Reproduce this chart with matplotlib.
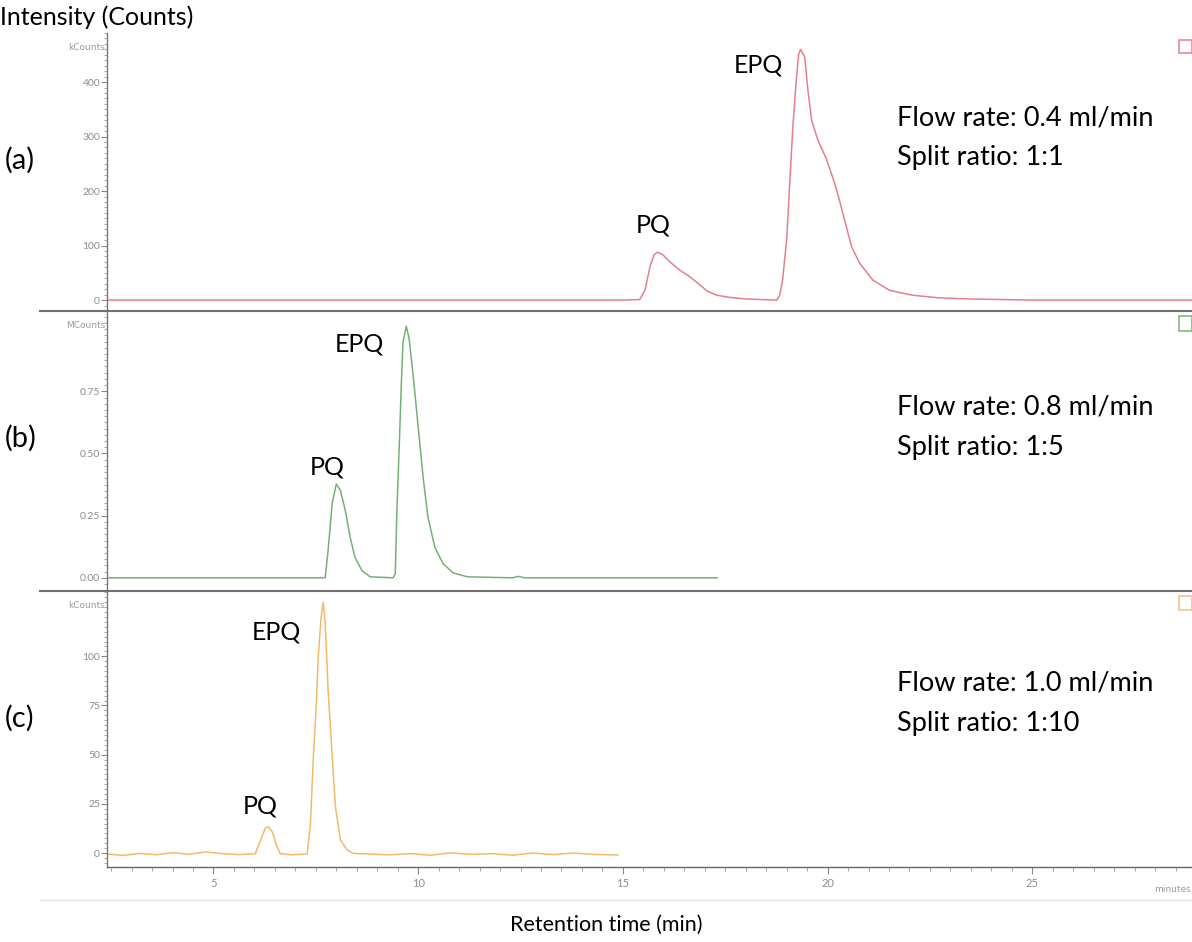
import matplotlib
matplotlib.use('Agg')
import matplotlib.pyplot as plt
from matplotlib.ticker import MultipleLocator, FormatStrFormatter
from matplotlib.lines import Line2D
from matplotlib.patches import Rectangle

plt.rcParams['font.family'] = ['Lato', 'DejaVu Sans']

# ---------------- data ----------------
# (a) Flow rate 0.4 ml/min, split 1:1  (kCounts)
time_a = [2.4, 15.0, 15.41, 15.54, 15.66, 15.76, 15.85, 15.98, 16.15, 16.39, 16.63,
          16.88, 17.05, 17.29, 17.61, 18.02, 18.76, 18.83, 18.9, 19.0, 19.07, 19.15,
          19.24, 19.29, 19.34, 19.44, 19.51, 19.61, 19.76, 19.98, 20.17, 20.29, 20.46,
          20.59, 20.78, 21.1, 21.51, 22.07, 22.73, 23.54, 25.0, 28.9]
int_a = [0, 0, 1, 18, 61, 83, 88, 83, 70, 55, 43,
         28, 17, 9, 5, 2, 0, 9, 37, 110, 207, 317,
         408, 450, 460, 446, 391, 330, 294, 257, 215, 183, 134,
         97, 68, 37, 18, 9, 4, 2, 0, 0]

# (b) Flow rate 0.8 ml/min, split 1:5  (MCounts)
time_b = [2.4, 7.6, 7.73, 7.8, 7.9, 8.0, 8.1, 8.22, 8.34, 8.46, 8.63, 8.83, 9.39,
          9.44, 9.48, 9.54, 9.59, 9.63, 9.71, 9.78, 9.88, 10.0, 10.12, 10.24, 10.41,
          10.61, 10.85, 11.2, 12.32, 12.44, 12.6, 17.3]
int_b = [0, 0, 0.0, 0.11, 0.30, 0.377, 0.352, 0.271, 0.162, 0.081, 0.028, 0.004, 0.0,
         0.016, 0.27, 0.54, 0.785, 0.947, 1.012, 0.96, 0.81, 0.607, 0.405, 0.243, 0.121,
         0.057, 0.02, 0.004, 0.0, 0.006, 0.0, 0.0]

# (c) Flow rate 1.0 ml/min, split 1:10  (kCounts)
time_c = [2.4, 2.8, 3.2, 3.6, 4.0, 4.4, 4.8, 5.2, 5.6, 6.02, 6.15, 6.27, 6.34, 6.44,
          6.54, 6.63, 6.9, 7.29, 7.37, 7.44, 7.51, 7.56, 7.63, 7.68, 7.73, 7.8, 7.9,
          7.98, 8.1, 8.27, 8.41, 8.8, 9.3, 9.8, 10.3, 10.8, 11.3, 11.8, 12.3, 12.8,
          13.3, 13.8, 14.3, 14.88]
int_c = [-0.5, -1.2, -0.2, -0.9, 0.2, -0.7, 0.6, -0.3, -0.8, -0.4, 6.6, 12.8, 13.3, 10.7,
         4, -0.3, -0.9, -0.4, 15, 49, 74.5, 100, 120, 127.5, 117, 83, 49,
         23.5, 6.6, 1.5, -0.2, -0.5, -0.9, -0.3, -1.1, 0.1, -0.7, -0.3, -1.1, 0.0,
         -0.8, 0.0, -0.7, -1]

panel_labels = ['(a)', '(b)', '(c)']
flow_labels = ['Flow rate: 0.4 ml/min', 'Flow rate: 0.8 ml/min', 'Flow rate: 1.0 ml/min']
split_labels = ['Split ratio: 1:1', 'Split ratio: 1:5', 'Split ratio: 1:10']
unit_labels = ['kCounts', 'MCounts', 'kCounts']
y_major = [[0, 100, 200, 300, 400], [0.0, 0.25, 0.5, 0.75], [0, 25, 50, 75, 100]]
x_ticks = [5, 10, 15, 20, 25]

# ---------------- layout ----------------
W, H = 1192, 942
fig = plt.figure(figsize=(W / 100, H / 100), dpi=100)
fig.patch.set_facecolor('white')

def fx(px):
    return px / W

def fy(py):
    return 1 - py / H

left = fx(107)
panels = [(33, 311), (311, 591), (591, 867)]
ylims = [(-20, 490), (-0.053, 1.073), (-7.1, 133.2)]
colors = ['#e57f8e', '#74b274', '#f2b96a']
minors = [10, 0.025, 2.5]
fmts = ['%d', '%.2f', '%d']
series = [(time_a, int_a), (time_b, int_b), (time_c, int_c)]

axes = []
for i, (top, bot) in enumerate(panels):
    ax = fig.add_axes([left, fy(bot), 1 - left, fy(top) - fy(bot)])
    t, v = series[i]
    ax.plot(t, v, color=colors[i], lw=1.1)
    ax.set_xlim(2.4, 28.9)
    ax.set_ylim(*ylims[i])
    ax.set_yticks(y_major[i])
    ax.yaxis.set_major_formatter(FormatStrFormatter(fmts[i]))
    ax.yaxis.set_minor_locator(MultipleLocator(minors[i]))
    for s in ['top', 'right']:
        ax.spines[s].set_visible(False)
    ax.spines['left'].set_color('#777777')
    ax.spines['left'].set_linewidth(1.0)
    ax.tick_params(axis='y', which='major', direction='out', length=4, width=0.8,
                   color='#888888', labelcolor='#8c8c8c', labelsize=7.5, pad=1)
    ax.tick_params(axis='y', which='minor', direction='out', length=2, width=0.6,
                   color='#999999')
    if i < 2:
        ax.spines['bottom'].set_visible(False)
        ax.set_xticks([])
    else:
        ax.spines['bottom'].set_color('#666666')
        ax.spines['bottom'].set_linewidth(1.0)
        ax.set_xticks(x_ticks)
        ax.xaxis.set_minor_locator(MultipleLocator(0.5))
        ax.tick_params(axis='x', which='major', direction='out', length=5, width=0.8,
                       color='#888888', labelcolor='#8c8c8c', labelsize=8, pad=3)
        ax.tick_params(axis='x', which='minor', direction='out', length=3, width=0.6,
                       color='#999999')
    ax.patch.set_alpha(0)
    axes.append(ax)

# separators between panels
for py in [311, 591]:
    fig.add_artist(Line2D([fx(40), 1.0], [fy(py), fy(py)], color='#707070', lw=1.5))
fig.add_artist(Line2D([fx(40), 1.0], [fy(900), fy(900)], color='#e2e2e2', lw=1.0))

# unit labels at top of y axes
for py, lab in zip([47, 325, 605], unit_labels):
    fig.text(fx(105), fy(py), lab, ha='right', va='center', fontsize=6.5,
             color='#9a9a9a', family='DejaVu Sans')

# small legend icons at right
for (py0, py1), col in zip([(40, 53), (316, 331), (596, 610)], ['#e88a95', '#7dbb7d', '#f5c48a']):
    fig.add_artist(Rectangle((fx(1179), fy(py1)), fx(13), fy(py0) - fy(py1),
                             fill=True, facecolor='white', edgecolor=col, lw=1.2))

# panel letters
for py, lab in zip([160, 438, 718], panel_labels):
    fig.text(fx(5), fy(py), lab, ha='left', va='center', fontsize=21, color='black')

# flow / split annotations
for py1, py2, f, s in zip([118, 407, 683], [158, 447, 723], flow_labels, split_labels):
    fig.text(fx(897), fy(py1), f, ha='left', va='center', fontsize=19.5, color='black')
    fig.text(fx(897), fy(py2), s, ha='left', va='center', fontsize=19.5, color='black')

# peak labels
peak_pos = [(653, 225, 'PQ'), (758, 65, 'EPQ'), (359, 344, 'EPQ'), (327, 467, 'PQ'),
            (276, 632, 'EPQ'), (260, 806, 'PQ')]
for px, py, lab in peak_pos:
    fig.text(fx(px), fy(py), lab, ha='center', va='center', fontsize=18, color='black')

# axis titles
fig.text(fx(0), fy(17), 'Intensity (Counts)', ha='left', va='center', fontsize=18,
         color='black')
fig.text(fx(606), fy(925), 'Retention time (min)', ha='center', va='center', fontsize=15.5,
         color='black')
fig.text(fx(1191), fy(890), 'minutes', ha='right', va='center', fontsize=6.5,
         color='#9a9a9a', family='DejaVu Sans')

fig.savefig('out.png', dpi=100, facecolor='white')
